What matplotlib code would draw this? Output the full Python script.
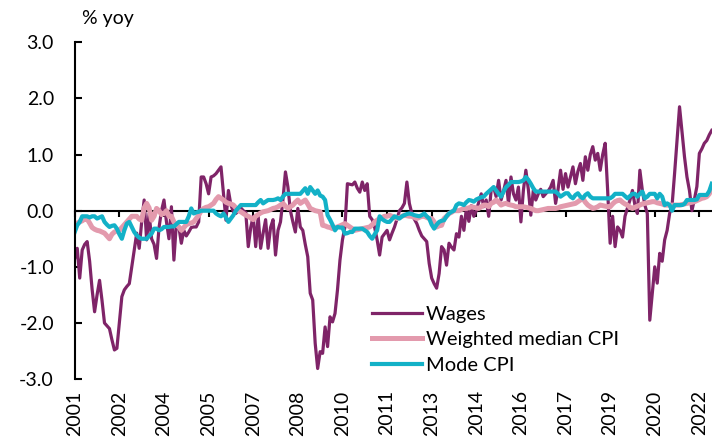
import matplotlib
matplotlib.use('Agg')
import matplotlib.pyplot as plt

plt.rcParams['font.family'] = ['Lato', 'DejaVu Sans']
plt.rcParams['axes.unicode_minus'] = False

# monthly, Jan 2001 - Jun 2022, % yoy
wages = [
    -0.85, -0.67, -1.2, -0.7, -0.6, -0.55, -0.9, -1.4, -1.8, -1.5, -1.24, -1.6,
    -2.0, -2.05, -2.1, -2.3, -2.48, -2.45, -2.0, -1.53, -1.41, -1.35, -1.3, -1.0,
    -0.7, -0.4, -0.67, -0.2, 0.19, -0.52, -0.05, -0.5, -0.6, -0.85, -0.3, 0.0,
    0.19, -0.2, -0.5, 0.07, -0.88, -0.22, -0.29, -0.58, -0.35, -0.45, -0.38, -0.3,
    -0.29, -0.29, -0.2, 0.6, 0.6, 0.48, 0.3, 0.6, 0.62, 0.66, 0.72, 0.78,
    0.3, -0.17, 0.36, 0.1, -0.02, -0.05, 0.0, 0.05, 0.0, -0.03, -0.64, -0.3,
    -0.1, -0.64, -0.1, -0.67, -0.4, -0.16, -0.67, -0.3, -0.16, -0.79, -0.35, -0.2,
    0.2, 0.69, 0.42, 0.0, -0.2, -0.38, 0.04, -0.29, -0.35, -0.6, -0.82, -1.47,
    -1.59, -2.36, -2.81, -2.51, -2.54, -2.07, -2.42, -1.89, -1.98, -1.83, -1.41, -0.88,
    -0.52, -0.29, 0.48, 0.47, 0.46, 0.51, 0.4, 0.33, 0.51, 0.36, 0.48, -0.1,
    -0.16, -0.3, -0.52, -0.79, -0.47, -0.41, -0.35, -0.52, -0.4, -0.29, -0.15, 0.0,
    0.05, 0.13, 0.51, 0.13, -0.05, -0.15, -0.23, -0.35, -0.45, -0.5, -0.55, -0.94,
    -1.2, -1.3, -1.38, -1.12, -0.64, -0.7, -0.97, -0.58, -0.65, -0.7, -0.41, -0.47,
    -0.1, -0.35, 0.04, -0.19, 0.09, -0.1, 0.0, 0.15, 0.3, 0.07, 0.19, -0.1,
    0.36, 0.42, 0.25, 0.54, 0.19, 0.35, 0.54, 0.13, 0.6, 0.3, 0.19, 0.42,
    -0.2, 0.36, 0.72, 0.38, -0.08, 0.36, 0.19, 0.3, 0.38, 0.25, 0.3, 0.35,
    0.42, 0.54, 0.13, 0.38, 0.72, 0.38, 0.66, 0.42, 0.6, 0.78, 0.48, 0.7,
    0.84, 0.54, 0.96, 0.72, 1.0, 1.14, 0.9, 1.02, 0.72, 1.0, 1.2, 0.36,
    -0.58, -0.1, -0.64, -0.29, -0.35, -0.47, -0.1, 0.05, 0.19, 0.36, 0.1, -0.05,
    0.72, 0.36, 0.1, -0.05, -1.95, -1.47, -1.0, -1.29, -0.76, -0.9, -0.52, -0.35,
    -0.05, 0.1, 0.66, 1.25, 1.85, 1.4, 0.96, 0.6, 0.36, 0.0, 0.2, 0.43,
    1.02, 1.1, 1.2, 1.25, 1.35, 1.43,
]

weighted_median = [
    -0.25, -0.22, -0.2, -0.18, -0.15, -0.15, -0.22, -0.3, -0.33, -0.35, -0.36, -0.38,
    -0.4, -0.45, -0.5, -0.42, -0.38, -0.36, -0.35, -0.3, -0.25, -0.2, -0.15, -0.1,
    -0.1, -0.1, -0.15, -0.17, 0.05, 0.13, 0.05, -0.17, -0.1, 0.04, 0.0, -0.07,
    -0.05, 0.0, -0.1, -0.1, -0.2, -0.25, -0.29, -0.35, -0.3, -0.25, -0.23, -0.22,
    -0.2, -0.14, -0.08, 0.0, 0.04, 0.06, 0.07, 0.1, 0.13, 0.2, 0.25, 0.22,
    0.19, 0.15, 0.13, 0.12, 0.1, 0.05, 0.0, -0.02, -0.05, -0.08, -0.1, -0.13,
    -0.16, -0.1, -0.07, -0.04, -0.02, -0.01, 0.0, 0.02, 0.04, 0.05, 0.07, 0.1,
    0.13, 0.08, 0.04, 0.07, 0.1, 0.15, 0.19, 0.13, 0.16, 0.19, 0.12, 0.04,
    0.02, 0.0, -0.01, -0.02, -0.26, -0.27, -0.29, -0.3, -0.32, -0.3, -0.29, -0.27,
    -0.25, -0.23, -0.26, -0.29, -0.32, -0.35, -0.34, -0.33, -0.32, -0.31, -0.3, -0.29,
    -0.25, -0.2, -0.17, -0.14, -0.12, -0.1, -0.1, -0.08, -0.1, -0.12, -0.14, -0.12,
    -0.1, -0.08, -0.09, -0.1, -0.1, -0.12, -0.14, -0.12, -0.1, -0.1, -0.12, -0.14,
    -0.14, -0.2, -0.29, -0.27, -0.26, -0.14, -0.1, -0.05, -0.03, 0.0, 0.0, 0.0,
    0.02, 0.04, 0.04, 0.05, 0.07, 0.06, 0.05, 0.04, 0.07, 0.1, 0.1, 0.07,
    0.13, 0.15, 0.19, 0.15, 0.1, 0.12, 0.13, 0.11, 0.1, 0.09, 0.07, 0.07,
    0.07, 0.07, 0.06, 0.05, 0.04, 0.02, 0.0, 0.0, 0.01, 0.02, 0.03, 0.04,
    0.04, 0.04, 0.04, 0.05, 0.07, 0.08, 0.09, 0.1, 0.11, 0.12, 0.13, 0.16,
    0.19, 0.22, 0.15, 0.1, 0.07, 0.04, 0.05, 0.07, 0.1, 0.09, 0.08, 0.07,
    0.07, 0.12, 0.16, 0.18, 0.19, 0.15, 0.12, 0.1, 0.06, 0.04, 0.06, 0.08,
    0.1, 0.12, 0.13, 0.14, 0.15, 0.16, 0.16, 0.14, 0.13, 0.12, 0.1, 0.1,
    0.1, 0.1, 0.1, 0.1, 0.1, 0.11, 0.12, 0.13, 0.14, 0.15, 0.16, 0.18,
    0.2, 0.22, 0.23, 0.25, 0.3, 0.42,
]

mode_cpi = [
    -0.38, -0.26, -0.2, -0.1, -0.1, -0.1, -0.12, -0.1, -0.1, -0.14, -0.12, -0.1,
    -0.2, -0.25, -0.29, -0.27, -0.26, -0.32, -0.42, -0.5, -0.35, -0.23, -0.2, -0.29,
    -0.38, -0.44, -0.48, -0.5, -0.5, -0.5, -0.45, -0.41, -0.32, -0.32, -0.35, -0.33,
    -0.29, -0.29, -0.29, -0.28, -0.28, -0.24, -0.2, -0.2, -0.2, -0.2, -0.1, 0.04,
    -0.05, -0.03, -0.02, 0.0, 0.0, 0.0, 0.0, 0.0, 0.0, -0.05, -0.08, -0.1,
    -0.05, -0.12, -0.2, -0.14, -0.08, 0.0, 0.05, 0.1, 0.1, 0.1, 0.1, 0.1,
    0.1, 0.1, 0.15, 0.19, 0.13, 0.16, 0.19, 0.19, 0.19, 0.2, 0.22, 0.19,
    0.25, 0.3, 0.3, 0.3, 0.3, 0.3, 0.3, 0.3, 0.35, 0.4, 0.3, 0.42,
    0.36, 0.3, 0.36, 0.27, 0.25, 0.19, -0.08, -0.16, -0.25, -0.35, -0.29, -0.3,
    -0.3, -0.41, -0.4, -0.38, -0.38, -0.32, -0.32, -0.32, -0.32, -0.35, -0.38, -0.45,
    -0.5, -0.42, -0.35, -0.1, -0.15, -0.18, -0.2, -0.2, -0.15, -0.1, -0.12, -0.14,
    -0.1, -0.08, -0.06, -0.05, -0.06, -0.08, -0.09, -0.1, -0.08, -0.05, -0.1, -0.14,
    -0.25, -0.32, -0.25, -0.2, -0.18, -0.17, -0.1, -0.05, -0.02, 0.0, 0.1, 0.13,
    0.12, 0.1, 0.15, 0.19, 0.18, 0.16, 0.2, 0.22, 0.24, 0.25, 0.3, 0.34,
    0.38, 0.42, 0.36, 0.3, 0.25, 0.34, 0.42, 0.46, 0.51, 0.51, 0.51, 0.51,
    0.52, 0.54, 0.6, 0.55, 0.48, 0.4, 0.34, 0.34, 0.34, 0.34, 0.34, 0.34,
    0.34, 0.34, 0.34, 0.3, 0.25, 0.28, 0.31, 0.31, 0.25, 0.22, 0.28, 0.31,
    0.25, 0.22, 0.28, 0.31, 0.25, 0.22, 0.22, 0.22, 0.22, 0.22, 0.22, 0.22,
    0.22, 0.25, 0.3, 0.3, 0.3, 0.3, 0.26, 0.22, 0.26, 0.3, 0.3, 0.25,
    0.3, 0.34, 0.22, 0.25, 0.3, 0.3, 0.3, 0.22, 0.3, 0.25, 0.1, 0.13,
    0.1, 0.0, 0.1, 0.1, 0.1, 0.1, 0.12, 0.19, 0.19, 0.19, 0.19, 0.2,
    0.28, 0.28, 0.28, 0.28, 0.35, 0.48,
]

tick_labels = ['2001', '2002', '2004', '2005', '2007', '2008', '2010', '2011',
               '2013', '2014', '2016', '2017', '2019', '2020', '2022']

months = range(len(wages))

fig = plt.figure(figsize=(7.12, 4.44), dpi=100)
ax = fig.add_axes([0.105, 0.146, 0.895, 0.759])

ax.plot(months, wages, color='#7F2468', lw=2.3, label='Wages')
ax.plot(months, weighted_median, color='#E39AAD', lw=3.6, label='Weighted median CPI')
ax.plot(months, mode_cpi, color='#13B1C7', lw=3.0, label='Mode CPI')

ax.set_xlim(0, len(wages) - 0.9)
ax.set_ylim(-3, 3)

ax.spines['top'].set_visible(False)
ax.spines['right'].set_visible(False)
ax.spines['left'].set_linewidth(1.5)
ax.spines['bottom'].set_position(('data', 0))
ax.spines['bottom'].set_linewidth(1.5)
ax.spines['bottom'].set_zorder(1)

ax.set_yticks(range(-3, 4))
ax.set_yticklabels(['%.1f' % v for v in range(-3, 4)])
ax.tick_params(axis='y', direction='in', length=5, width=1.5, pad=15, labelsize=14)

ax.set_xticks(range(0, len(wages), 18))
ax.set_xticklabels(tick_labels, rotation=90, va='top', ha='center')
# labels sit at the bottom of the frame, not on the zero line
bottom_pad = ax.get_position().height * 4.44 * 72 / 2 + 4
ax.tick_params(axis='x', direction='out', length=4, width=1.5, pad=bottom_pad, labelsize=14)

ax.text(0.012, 1.07, '% yoy', transform=ax.transAxes, ha='left', va='center', fontsize=14)

ax.legend(loc='upper left', bbox_to_anchor=(0.466, 0.218), frameon=False, fontsize=14.5,
          handlelength=2.5, handletextpad=0.2, labelspacing=0.42, borderpad=0, borderaxespad=0)

plt.savefig('out.png', dpi=100)
